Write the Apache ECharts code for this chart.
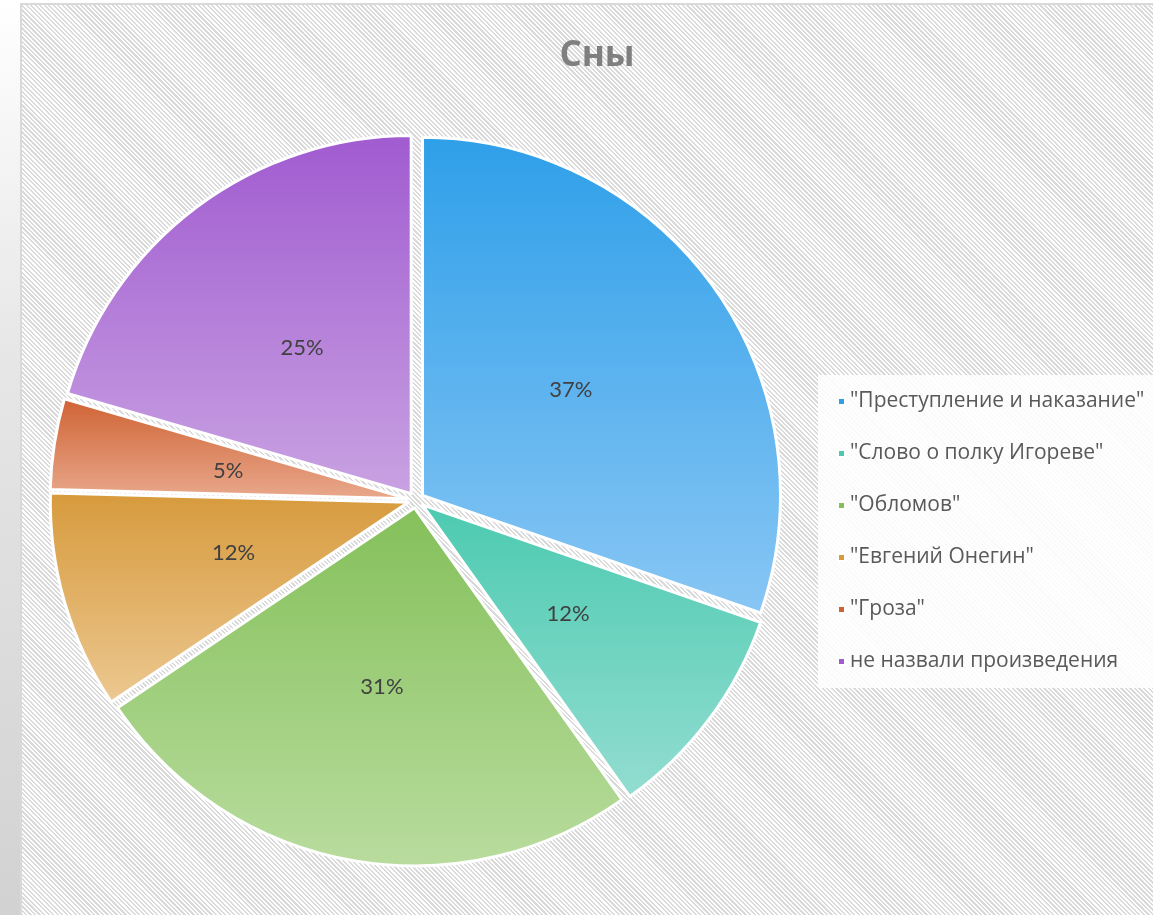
<!DOCTYPE html>
<html>
<head>
<meta charset="utf-8">
<title>Сны</title>
<script src="https://cdn.jsdelivr.net/npm/echarts@6/dist/echarts.min.js"></script>
<style>
  html, body { margin: 0; padding: 0; width: 1153px; height: 915px; overflow: hidden;
    background: linear-gradient(to bottom, #ffffff 0%, #e6e6e6 40%, #d2d2d2 100%); }
  #frame {
    position: absolute; left: 20px; top: 3px; width: 1160px; height: 940px;
    border: 2px solid #d9d9d9; box-sizing: border-box;
    background: repeating-linear-gradient(45deg, #ffffff 0px, #ffffff 1.6px, #dadada 1.6px, #dadada 3.2px);
  }
  #chart { position: absolute; left: 0; top: 0; width: 1153px; height: 915px; }
</style>
</head>
<body>
<div id="frame"></div>
<div id="chart"></div>
<script>
var titleText = 'Сны';
var categories = ['"Преступление и наказание"', '"Слово о полку Игореве"', '"Обломов"',
                  '"Евгений Онегин"', '"Гроза"', 'не назвали произведения'];
var values = [37, 12, 31, 12, 5, 25];
// top / bottom colours of each slice gradient
var topColors = ['#2e9fe9', '#4ccab0', '#84c05a', '#d79a3c', '#cf6233', '#a05bd0'];
var bottomColors = ['#88c6f4', '#93ddd1', '#b9dc9e', '#ecc891', '#e9a98d', '#c9a2e2'];

var chart = echarts.init(document.getElementById('chart'));

var seriesData = [];
for (var i = 0; i < values.length; i++) {
  seriesData.push({
    name: categories[i],
    value: values[i],
    selected: true,
    itemStyle: {
      color: new echarts.graphic.LinearGradient(0, 0, 0, 1, [
        { offset: 0, color: topColors[i] },
        { offset: 1, color: bottomColors[i] }
      ])
    }
  });
}

var option = {
  backgroundColor: 'transparent',
  animation: false,
  title: {
    text: titleText,
    left: 592,
    top: 34,
    textAlign: 'center',
    textStyle: { fontFamily: 'Open Sans', fontWeight: 'bold', fontSize: 35, color: '#7f7f7f' }
  },
  legend: {
    orient: 'vertical',
    left: 818,
    top: 375,
    padding: [16, 20, 16, 19],
    backgroundColor: 'rgba(255,255,255,0.85)',
    itemWidth: 7,
    itemHeight: 7,
    itemGap: 31,
    icon: 'rect',
    selectedMode: false,
    textStyle: { fontFamily: 'Open Sans', fontSize: 21, color: '#595959' },
    data: categories.map(function (c, i) {
      return { name: c, itemStyle: { color: topColors[i] } };
    })
  },
  series: [{
    type: 'pie',
    center: [416, 500],
    radius: [0, 358],
    startAngle: 90,
    clockwise: true,
    selectedMode: 'multiple',
    selectedOffset: 8,
    avoidLabelOverlap: false,
    itemStyle: { borderColor: '#ffffff', borderWidth: 3 },
    label: {
      show: true,
      position: 'inner',
      formatter: function (p) { return p.value + '%'; },
      fontFamily: 'Lato',
      fontSize: 22,
      color: '#404040',
      padding: [8, 0, 0, 0]
    },
    labelLine: { show: false },
    emphasis: { disabled: true },
    data: seriesData
  }]
};

chart.setOption(option);
</script>
</body>
</html>
